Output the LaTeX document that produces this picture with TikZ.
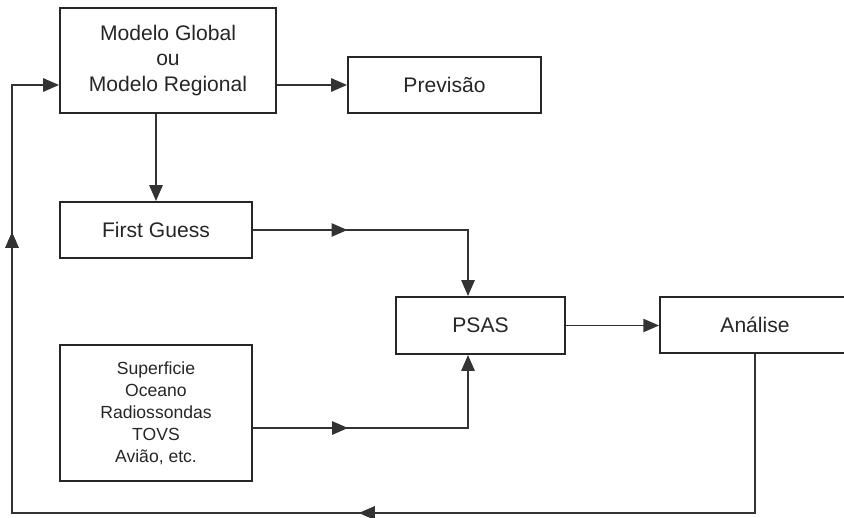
\documentclass[tikz,border=0pt]{standalone}
\usepackage{fontspec}
\setmainfont{Liberation Sans}
\usetikzlibrary{arrows.meta,decorations.markings}
\tikzset{
  box/.style={draw=black!85,line width=1.1pt,text=black!85,align=center,inner sep=0pt},
  link/.style={draw=black!80,line width=1.1pt,-{Triangle[length=9pt,width=7.5pt]}},
  midarrow/.style={postaction={decorate},decoration={markings,%
      mark=at position #1 with {\arrow{Triangle[length=9pt,width=7.5pt]}}}}
}
\begin{document}
\begin{tikzpicture}[x=0.02cm,y=-0.02cm,font=\fontsize{12}{14.7}\selectfont]
      \useasboundingbox (0,0) rectangle (844,517) ;
      \node[box,minimum width=4.32cm,minimum height=2.1cm] (model) at (168,60.5) %
      {Modelo Global\\ou\\Modelo Regional} ;
      \node[box,minimum width=3.86cm,minimum height=1.12cm] (prev) at (444.5,85) {Previsão} ;
      \node[box,minimum width=3.84cm,minimum height=1.12cm] (fg) at (156,230) {First Guess} ;
      \node[box,minimum width=3.38cm,minimum height=1.14cm] (psas) at (480.5,325.5) {PSAS} ;
      \node[box,minimum width=3.8cm,minimum height=1.12cm] (an) at (755,325) {Análise} ;
      \node[box,minimum width=3.84cm,minimum height=2.72cm,font=\fontsize{10}{12.5}\selectfont] %
      (obs) at (156,413) {Superficie\\Oceano\\Radiossondas\\TOVS\\Avião, etc.} ;
      \coordinate (in) at (prev.west -| model.west) ;
      \coordinate (bl) at (12,513) ;
      \draw[link] (prev.west -| model.east) -- (prev.west) ;
      \draw[link] (fg.north |- model.south) -- (fg.north) ;
      \draw[link,midarrow=0.336] (fg.east) -| ([xshift=-0.25cm]psas.north) ;
      \draw[link,midarrow=0.33] ([yshift=-0.3cm]obs.east) -| ([xshift=-0.25cm]psas.south) ;
      \draw[link] (psas.east) -- (psas.east -| an.west) ;
      \draw[link,midarrow=0.403,midarrow=0.859] (an.south) |- (bl) -- (bl |- in) -- (in) ;
    \end{tikzpicture}
\end{document}
